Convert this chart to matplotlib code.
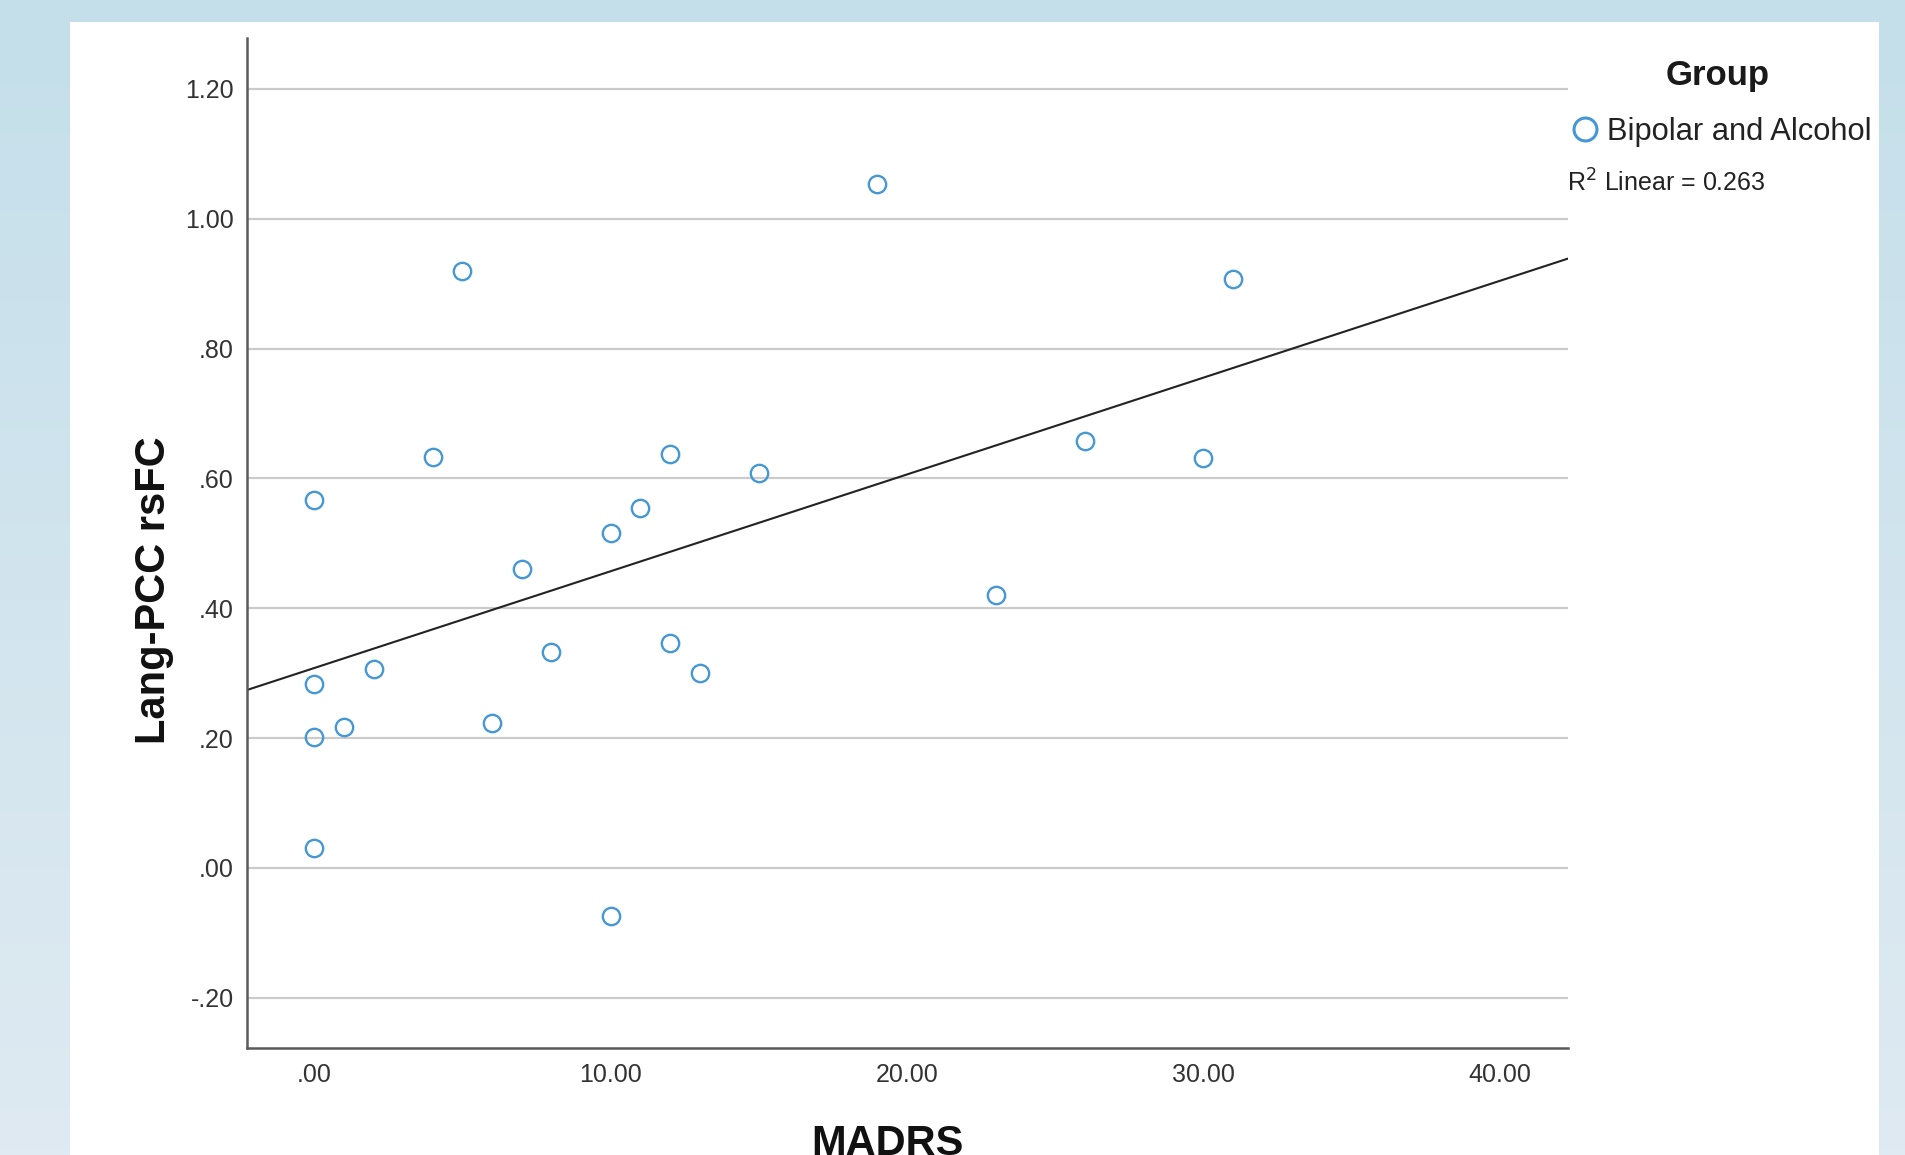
import numpy as np
import matplotlib
matplotlib.use('Agg')
import matplotlib.pyplot as plt
from matplotlib.patches import Rectangle
from matplotlib.lines import Line2D

plt.rcParams['font.family'] = ['Liberation Sans', 'DejaVu Sans']

# data
madrs = [0, 0, 0, 0, 1, 2, 4, 5, 6, 7, 8, 10, 10, 11, 12, 12, 13, 15, 19, 23, 26, 30, 31]
rsfc = [0.567, 0.284, 0.201, 0.031, 0.217, 0.307, 0.633, 0.920, 0.223, 0.461, 0.332,
        0.516, -0.074, 0.554, 0.637, 0.346, 0.300, 0.609, 1.054, 0.420, 0.658, 0.632, 0.907]

xticks = [0, 10, 20, 30, 40]
xtick_labels = ['.00', '10.00', '20.00', '30.00', '40.00']
yticks = [-0.2, 0.0, 0.2, 0.4, 0.6, 0.8, 1.0, 1.2]
ytick_labels = ['-.20', '.00', '.20', '.40', '.60', '.80', '1.00', '1.20']

group_label = 'Bipolar and Alcohol'
r2_text = r'R$^2$ Linear = 0.263'

W, H = 1905, 1155
blue = '#4598d4'

fig = plt.figure(figsize=(W / 100, H / 100), dpi=100)

# light blue slide background
bg = fig.add_axes([0, 0, 1, 1], zorder=-10)
top_c = np.array([196, 223, 234]) / 255
bot_c = np.array([223, 234, 242]) / 255
t = np.linspace(0, 1, 256)[:, None]
grad = (top_c[None, :] * (1 - t) + bot_c[None, :] * t)[:, None, :]
bg.imshow(grad, aspect='auto', extent=[0, 1, 0, 1], origin='upper')
bg.axis('off')

# white chart panel
fig.add_artist(Rectangle((70 / W, 0), (1879 - 70) / W, (H - 22) / H,
                         transform=fig.transFigure, facecolor='white',
                         edgecolor='none', zorder=-5))

ax = fig.add_axes([247 / W, 1 - 1047.7 / H, (1568 - 247) / W, (1047.7 - 38.3) / H])
ax.patch.set_alpha(0)

ax.plot(madrs, rsfc, ls='none', marker='o', ms=12.5, mfc='none', mec=blue, mew=1.7, zorder=3)

# linear fit line across the whole x range
xlim = (-2.27, 42.3)
slope, icpt = np.polyfit(madrs, rsfc, 1)
xs = np.array(xlim)
ax.plot(xs, icpt + slope * xs, color='#222222', lw=1.5, zorder=2)

ax.set_xlim(*xlim)
ax.set_ylim(-0.277, 1.278)
ax.set_xticks(xticks)
ax.set_xticklabels(xtick_labels)
ax.set_yticks(yticks)
ax.set_yticklabels(ytick_labels)
ax.tick_params(axis='both', length=0, labelsize=18, labelcolor='#333333')
ax.tick_params(axis='x', pad=11)
ax.tick_params(axis='y', pad=9.5)

ax.yaxis.grid(True, color='#cbcbcb', lw=1.6)
ax.set_axisbelow(True)
for s in ['top', 'right']:
    ax.spines[s].set_visible(False)
for s in ['left', 'bottom']:
    ax.spines[s].set_color('#5a5a5a')
    ax.spines[s].set_linewidth(1.8)

# axis titles
fig.text(165 / W, 1 - 590 / H, 'Lang-PCC rsFC', rotation=90, rotation_mode='anchor',
         ha='center', va='baseline', fontsize=30, fontweight='bold', color='#111111')
fig.text(887 / W, 1 - 1155 / H, 'MADRS', ha='center', va='baseline',
         fontsize=30, fontweight='bold', color='#111111')

# legend block
fig.text(1718 / W, 1 - 85 / H, 'Group', ha='center', va='baseline',
         fontsize=25, fontweight='bold', color='#1a1a1a')
fig.add_artist(Line2D([1585 / W], [1 - 129 / H], transform=fig.transFigure, ls='none',
                      marker='o', ms=16.5, mfc='none', mec=blue, mew=2.2))
fig.text(1607 / W, 1 - 140 / H, group_label, ha='left', va='baseline',
         fontsize=22.2, color='#222222')
fig.text(1567 / W, 1 - 192 / H, r2_text, ha='left', va='baseline',
         fontsize=18, color='#222222')

fig.savefig('out.png', dpi=100)
